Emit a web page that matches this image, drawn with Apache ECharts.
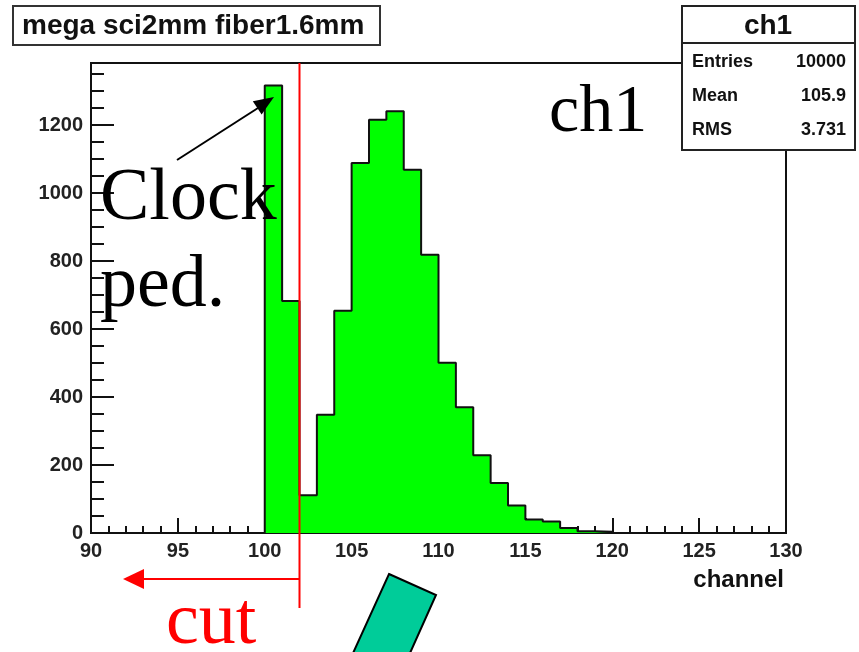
<!DOCTYPE html>
<html>
<head>
<meta charset="utf-8">
<script src="https://cdn.jsdelivr.net/npm/echarts@6/dist/echarts.min.js"></script>
<style>
  html, body { margin: 0; padding: 0; background: #fff; }
  #chart { width: 859px; height: 652px; }
</style>
</head>
<body>
<div id="chart"></div>
<script>
// histogram bins (low edge, width 1) and counts
const binLow = [100, 101, 102, 103, 104, 105, 106, 107, 108, 109,
                110, 111, 112, 113, 114, 115, 116, 117, 118, 119];
const counts = [1317, 683, 111, 348, 654, 1089, 1216, 1241, 1069, 819,
                501, 370, 229, 147, 81, 40, 34, 15, 5, 4];
const xTicks = [90, 130];      // axis range
const yMax = 1383;             // top of frame
const cutChannel = 102;        // red cut line
const statNames = ['Entries', 'Mean', 'RMS'];
const statValues = ['10000', '105.9', '3.731'];

const sans = '"Liberation Sans", Arial, sans-serif';
const serif = '"Liberation Serif", "Times New Roman", serif';

// step outline: start at zero on the first edge, close at zero after the last bin
const stepData = [[binLow[0], 0]];
binLow.forEach((x, i) => stepData.push([x, counts[i]]));
stepData.push([binLow[binLow.length - 1] + 1, 0]);

const chart = echarts.init(document.getElementById('chart'));

const tickLabel = {
  color: '#222', fontFamily: sans, fontWeight: 'bold', fontSize: 20,
  formatter: v => String(v)
};

const option = {
  backgroundColor: '#fff',
  animation: false,
  grid: {
    left: 91, top: 63, width: 695, height: 470,
    show: true, borderColor: '#111', borderWidth: 2, backgroundColor: '#fff'
  },
  xAxis: [
    {
      type: 'value', min: xTicks[0], max: xTicks[1], interval: 5, position: 'bottom',
      axisLine: { show: false },
      axisTick: { show: true, inside: true, length: 15, lineStyle: { color: '#111', width: 2 } },
      axisLabel: Object.assign({ margin: 8 }, tickLabel),
      splitLine: { show: false }
    },
    {
      type: 'value', min: xTicks[0], max: xTicks[1], interval: 1, position: 'bottom',
      axisLine: { show: false },
      axisTick: { show: true, inside: true, length: 7, lineStyle: { color: '#111', width: 2 } },
      axisLabel: { show: false },
      splitLine: { show: false }
    }
  ],
  yAxis: [
    {
      type: 'value', min: 0, max: yMax, interval: 200, position: 'left',
      axisLine: { show: false },
      axisTick: { show: true, inside: true, length: 23, lineStyle: { color: '#111', width: 2 } },
      axisLabel: Object.assign({ margin: 8, showMaxLabel: false }, tickLabel),
      splitLine: { show: false }
    },
    {
      type: 'value', min: 0, max: yMax, interval: 50, position: 'left',
      axisLine: { show: false },
      axisTick: { show: true, inside: true, length: 13, lineStyle: { color: '#111', width: 2 } },
      axisLabel: { show: false },
      splitLine: { show: false }
    }
  ],
  series: [
    {
      type: 'line',
      xAxisIndex: 0, yAxisIndex: 0,
      step: 'end',
      symbol: 'none',
      data: stepData,
      lineStyle: { color: '#111', width: 2 },
      areaStyle: { color: '#00ff00', opacity: 1 },
      z: 2
    }
  ]
};

chart.setOption(option);

// annotations drawn on top
const cutX = chart.convertToPixel({ xAxisIndex: 0 }, cutChannel);

chart.setOption({
  graphic: [
    // title box
    { type: 'rect', shape: { x: 13, y: 6, width: 367, height: 39 },
      style: { fill: '#fff', stroke: '#333', lineWidth: 2 }, z: 10 },
    { type: 'text', x: 22, y: 26, z: 11,
      style: { text: 'mega sci2mm fiber1.6mm', font: 'bold 28px ' + sans, fill: '#111', verticalAlign: 'middle' } },

    // stats box
    { type: 'rect', shape: { x: 682, y: 6, width: 173, height: 144 },
      style: { fill: '#fff', stroke: '#222', lineWidth: 2 }, z: 10 },
    { type: 'line', shape: { x1: 682, y1: 43, x2: 855, y2: 43 },
      style: { stroke: '#222', lineWidth: 2 }, z: 11 },
    { type: 'text', x: 768, y: 26, z: 11,
      style: { text: 'ch1', font: 'bold 28px ' + sans, fill: '#111', align: 'center', verticalAlign: 'middle' } },
    ...statNames.map((n, i) => ({
      type: 'text', x: 692, y: 62 + i * 34, z: 11,
      style: { text: n, font: 'bold 18px ' + sans, fill: '#111', verticalAlign: 'middle' }
    })),
    ...statValues.map((v, i) => ({
      type: 'text', x: 846, y: 62 + i * 34, z: 11,
      style: { text: v, font: 'bold 18px ' + sans, fill: '#111', align: 'right', verticalAlign: 'middle' }
    })),

    // axis title
    { type: 'text', x: 784, y: 580, z: 11,
      style: { text: 'channel', font: 'bold 24px ' + sans, fill: '#111', align: 'right', verticalAlign: 'middle' } },

    // cut line and arrow
    { type: 'line', shape: { x1: cutX, y1: 63, x2: cutX, y2: 608 },
      style: { stroke: '#ff0000', lineWidth: 2 }, z: 12 },
    { type: 'line', shape: { x1: cutX, y1: 579, x2: 140, y2: 579 },
      style: { stroke: '#ff0000', lineWidth: 2 }, z: 12 },
    { type: 'polygon', shape: { points: [[123, 579], [144, 569], [144, 589]] },
      style: { fill: '#ff0000' }, z: 12 },
    { type: 'text', x: 166, y: 624, z: 12,
      style: { text: 'cut', font: '74px ' + serif, fill: '#ff0000', verticalAlign: 'middle' } },

    // labels in the plot
    { type: 'text', x: 549, y: 113, z: 12,
      style: { text: 'ch1', font: '68px ' + serif, fill: '#000', verticalAlign: 'middle' } },
    { type: 'text', x: 100, y: 200, z: 12,
      style: { text: 'Clock', font: '74px ' + serif, fill: '#000', verticalAlign: 'middle' } },
    { type: 'text', x: 100, y: 287, z: 12,
      style: { text: 'ped.', font: '74px ' + serif, fill: '#000', verticalAlign: 'middle' } },
    { type: 'line', shape: { x1: 177, y1: 160, x2: 258, y2: 108 },
      style: { stroke: '#000', lineWidth: 2 }, z: 12 },
    { type: 'polygon', shape: { points: [[274, 97], [261.6, 114.6], [252.8, 101.2]] },
      style: { fill: '#000' }, z: 12 },

    // teal shape at the bottom
    { type: 'polygon', shape: { points: [[389, 574], [436, 595], [406, 662], [349, 662]] },
      style: { fill: '#00cc99', stroke: '#000', lineWidth: 2 }, z: 12 }
  ]
});
</script>
</body>
</html>
